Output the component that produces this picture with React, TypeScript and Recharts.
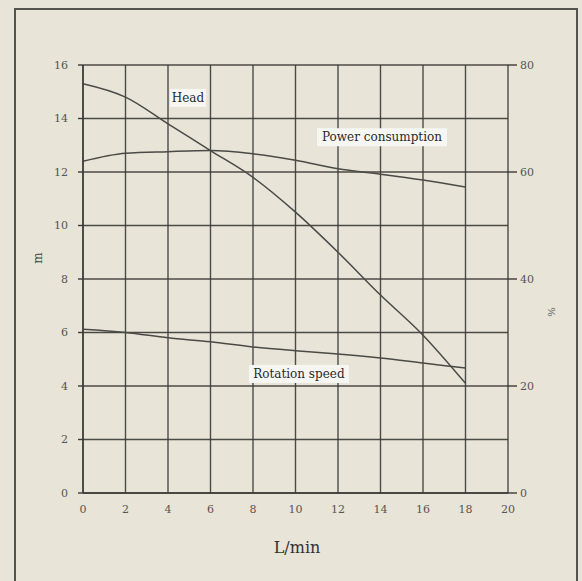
import React from 'react';
import { LineChart, Line, XAxis, YAxis, CartesianGrid, ReferenceDot } from 'recharts';

const flowLpm = [0, 2, 4, 6, 8, 10, 12, 14, 16, 18];
const headM = [15.3, 14.8, 13.8, 12.8, 11.8, 10.5, 9.0, 7.4, 5.9, 4.1];
const powerPct = [62.0, 63.5, 63.8, 64.0, 63.4, 62.2, 60.6, 59.6, 58.5, 57.2];
const rotationM = [6.12, 6.0, 5.8, 5.65, 5.46, 5.32, 5.2, 5.05, 4.86, 4.67];

const xTicks = [0, 2, 4, 6, 8, 10, 12, 14, 16, 18, 20];
const leftTicks = [0, 2, 4, 6, 8, 10, 12, 14, 16];
const rightTicks = [0, 20, 40, 60, 80];

const annotations = [
  { text: 'Head', x: 4.94, y: 14.77, w: 36 },
  { text: 'Power consumption', x: 14.07, y: 13.3, w: 130 },
  { text: 'Rotation speed', x: 10.16, y: 4.45, w: 100 },
];

const data = flowLpm.map((f, i) => ({
  flow: f,
  head: headM[i],
  power: powerPct[i],
  rotation: rotationM[i],
}));

const INK = '#3a3a36';
const FONT = '"DejaVu Serif", "Liberation Serif", serif';
const tickStyle = { fontSize: 11, fill: '#555', fontFamily: FONT };

const BoxLabel = ({ cx, cy, text, w }: any) => {
  if (cx == null || cy == null) return null;
  return (
    <g>
      <rect x={cx - w / 2} y={cy - 9} width={w} height={18} fill="#f6f6f3" />
      <text x={cx} y={cy} textAnchor="middle" dominantBaseline="central" fontSize={12} fontFamily={FONT} fill="#2a2a2a">
        {text}
      </text>
    </g>
  );
};

export default function App() {
  return (
    <div style={{ position: 'absolute', left: 0, top: 0, width: 582, height: 581, overflow: 'hidden', background: '#e8e4d8' }}>
      <div style={{ position: 'absolute', left: 14, top: 8, width: 564, height: 620, border: '2px solid #55534d', boxSizing: 'border-box' }} />
      <div style={{ position: 'absolute', left: 0, top: 0 }}>
        <LineChart width={582} height={581} data={data} margin={{ top: 65, right: 24, bottom: 28, left: 23 }}>
          <CartesianGrid yAxisId="left" stroke={INK} strokeWidth={1.4} strokeOpacity={0.9} />
          <XAxis
            dataKey="flow"
            type="number"
            domain={[0, 20]}
            ticks={xTicks}
            height={60}
            tickSize={0}
            tickMargin={12}
            axisLine={{ stroke: INK, strokeWidth: 1.4 }}
            tick={tickStyle}
            label={{
              content: () => (
                <text x={297} y={553} textAnchor="middle" fontSize={16} fontFamily={FONT} fill="#333">
                  L/min
                </text>
              ),
            }}
          />
          <YAxis
            yAxisId="left"
            domain={[0, 16]}
            ticks={leftTicks}
            width={60}
            tickSize={5}
            tickMargin={10}
            axisLine={{ stroke: INK, strokeWidth: 1.4 }}
            tickLine={{ stroke: INK, strokeWidth: 1.4 }}
            tick={tickStyle}
            label={{
              content: () => (
                <text x={38} y={258} textAnchor="middle" dominantBaseline="central" fontSize={12} fontFamily={FONT} fill="#444" transform="rotate(-90 38 258)">
                  m
                </text>
              ),
            }}
          />
          <YAxis
            yAxisId="right"
            orientation="right"
            domain={[0, 80]}
            ticks={rightTicks}
            width={50}
            tickSize={9}
            tickMargin={3}
            axisLine={false}
            tickLine={{ stroke: INK, strokeWidth: 1.4 }}
            tick={tickStyle}
            label={{
              content: () => (
                <text x={551} y={312} textAnchor="middle" dominantBaseline="central" fontSize={10} fontFamily={FONT} fill="#555" transform="rotate(90 551 312)">
                  %
                </text>
              ),
            }}
          />
          <Line yAxisId="left" type="monotone" dataKey="head" stroke="#4a4a46" strokeWidth={1.5} dot={false} isAnimationActive={false} />
          <Line yAxisId="right" type="monotone" dataKey="power" stroke="#4a4a46" strokeWidth={1.5} dot={false} isAnimationActive={false} />
          <Line yAxisId="left" type="monotone" dataKey="rotation" stroke="#4a4a46" strokeWidth={1.5} dot={false} isAnimationActive={false} />
          {annotations.map((a) => (
            <ReferenceDot
              key={a.text}
              yAxisId="left"
              x={a.x}
              y={a.y}
              r={1}
              shape={(p: any) => <BoxLabel cx={p.cx} cy={p.cy} text={a.text} w={a.w} />}
            />
          ))}
        </LineChart>
      </div>
    </div>
  );
}
